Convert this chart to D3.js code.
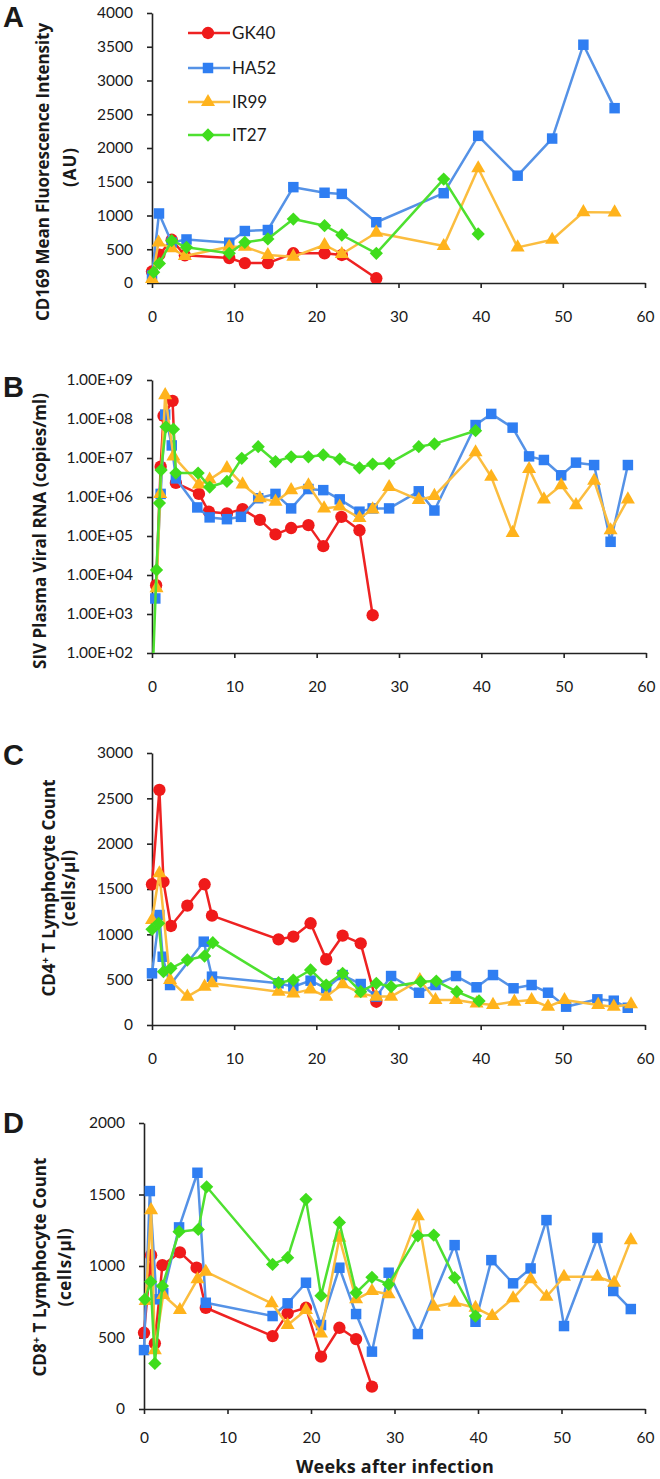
<!DOCTYPE html>
<html><head><meta charset="utf-8">
<script src="https://cdn.jsdelivr.net/npm/d3@7"></script>
<style>
body{margin:0;background:#fff;}
svg text{font-family:Lato,"Open Sans",sans-serif;fill:#1a1a1a;}
</style></head><body>
<svg id="chart" width="660" height="1479"></svg>
<script>
// ---------- DATA ----------
const seriesNames = ["GK40","HA52","IR99","IT27"];
const xTicks = [0,10,20,30,40,50,60];

// Panel A: CD169 MFI (AU)
const weeksA_GK40 = [0,0.9,2.4,4.0,9.4,11.3,14.1,17.2,21.0,23.1,27.3];
const cd169_GK40  = [170,420,640,410,370,295,295,440,440,415,70];
const weeksA_HA52 = [0,0.85,2.4,4.2,9.4,11.3,14.1,17.2,21.0,23.1,27.3,35.5,39.7,44.5,48.7,52.5,56.3];
const cd169_HA52  = [110,1030,600,645,597,770,785,1420,1337,1320,900,1330,2180,1590,2140,3530,2590];
const weeksA_IR99 = [0,0.8,2.4,4.0,9.4,11.3,14.1,17.2,21.0,23.1,27.3,35.5,39.7,44.5,48.7,52.5,56.3];
const cd169_IR99  = [60,600,514,400,537,537,415,390,563,430,745,548,1700,528,640,1050,1045];
const weeksA_IT27 = [0.2,0.9,2.4,4.2,9.4,11.3,14.1,17.2,21.0,23.1,27.3,35.5,39.7];
const cd169_IT27  = [160,290,627,528,440,603,652,948,849,711,440,1540,726];

// Panel B: SIV plasma viral RNA (copies/ml)
const weeksB_GK40 = [0.5,1.05,1.4,2.5,2.9,5.7,6.9,9.1,11.0,13.1,15.0,16.9,19.0,20.8,23.0,25.2,26.8];
const vl_GK40     = [5.5e3,6e6,1.2e8,2.9e8,2.3e6,1.2e6,4.2e5,3.8e5,4.9e5,2.6e5,1.1e5,1.6e5,1.9e5,5.5e4,3.1e5,1.4e5,9.3e2];
const weeksB_HA52 = [0.4,1.05,1.6,2.4,2.9,5.5,7.0,9.1,10.8,12.9,15.0,16.9,19.0,20.8,22.8,25.2,26.8,28.8,32.4,34.3,39.3,41.2,43.8,45.8,47.6,49.7,51.5,53.7,55.7,57.8];
const vl_HA52     = [2.5e3,1.2e6,1.3e8,2.1e7,3e6,5.4e5,3e5,2.7e5,3.1e5,9.3e5,1.2e6,5.1e5,1.6e6,1.5e6,8.7e5,4.2e5,5.1e5,5.1e5,1.4e6,4.5e5,7e7,1.35e8,6e7,1.1e7,8.9e6,3.6e6,7.6e6,6.6e6,7.1e4,6.6e6];
const weeksB_IR99 = [0.55,1.0,1.6,2.6,5.7,7.0,9.1,11.0,13.1,15.0,16.9,19.0,20.9,22.8,25.2,26.8,28.8,32.4,34.3,39.3,41.2,43.8,45.8,47.6,49.7,51.5,53.7,55.7,57.8];
const vl_IR99     = [4.6e3,1.2e6,4.1e8,1.1e7,2.1e6,2.8e6,5.5e6,2.1e6,9.3e5,7.6e5,1.5e6,2e6,5.1e5,5.7e5,2.9e5,4.8e5,1.8e6,8.4e5,1.07e6,1.4e7,3.3e6,1.2e5,5.2e6,8.7e5,2e6,6.2e5,2.6e6,1.4e5,8.7e5];
const weeksB_IT27 = [0,0.55,0.9,1.1,1.7,2.6,2.9,5.6,7.0,9.1,10.9,12.9,15.0,16.9,19.0,20.8,22.8,25.2,26.8,28.8,32.4,34.3,39.3];
const vl_IT27     = [10,1.35e4,7e5,4.9e6,6.3e7,5.5e7,4.1e6,4.1e6,1.8e6,2.5e6,9.8e6,1.95e7,8.1e6,1.07e7,1.07e7,1.2e7,9.3e6,5.6e6,7e6,7.3e6,1.95e7,2.3e7,5e7];

// Panel C: CD4+ T lymphocyte count (cells/µl)
const weeksC_GK40 = [0,0.9,1.4,2.3,4.3,6.4,7.3,15.4,17.2,19.3,21.2,23.2,25.4,27.3];
const cd4_GK40    = [1552,2592,1580,1092,1316,1552,1206,945,974,1122,725,985,901,257];
const weeksC_HA52 = [0,0.9,1.3,2.2,6.3,7.3,15.4,17.2,19.3,21.2,23.2,25.4,27.3,29.1,32.5,34.5,37.0,39.5,41.5,44.0,46.2,48.2,50.4,54.2,56.2,57.9];
const cd4_HA52    = [570,1213,753,441,919,533,460,422,489,405,551,452,313,540,356,441,540,416,551,405,441,356,202,283,268,190];
const weeksC_IR99 = [0,0.9,2.2,4.3,6.4,7.3,15.4,17.2,19.3,21.2,23.2,25.4,27.3,29.1,32.6,34.5,37.0,39.5,41.5,44.1,46.2,48.2,50.2,54.3,56.2,58.3];
const cd4_IR99    = [1158,1673,496,313,423,460,368,349,393,313,449,349,313,313,496,276,276,239,221,258,276,202,276,221,202,228];
const weeksC_IT27 = [0,0.8,1.4,2.3,4.3,6.4,7.4,15.4,17.2,19.3,21.2,23.2,25.4,27.3,29.1,32.7,34.6,37.1,39.8];
const cd4_IT27    = [1055,1121,588,625,717,761,908,467,496,607,441,570,368,460,423,478,485,368,265];

// Panel D: CD8+ T lymphocyte count (cells/µl)
const weeksD_GK40 = [0,0.85,1.3,2.2,4.3,6.3,7.4,15.4,17.2,19.4,21.2,23.4,25.4,27.3];
const cd8_GK40    = [533,1076,459,1006,1095,988,708,510,669,708,366,568,489,156];
const weeksD_HA52 = [0,0.7,1.5,2.3,4.2,6.4,7.4,15.4,17.2,19.4,21.2,23.4,25.4,27.3,29.3,32.8,37.2,39.7,41.6,44.2,46.3,48.2,50.3,54.3,56.2,58.3];
const cd8_HA52    = [412,1524,767,810,1270,1652,743,650,739,883,587,988,664,401,953,524,1146,610,1041,879,983,1321,580,1197,825,699];
const weeksD_IR99 = [0.2,0.85,1.3,2.3,4.3,6.4,7.4,15.3,17.2,19.4,21.2,23.4,25.4,27.3,29.3,32.8,34.7,37.2,39.7,41.7,44.2,46.3,48.2,50.3,54.3,56.3,58.3];
const cd8_IR99    = [755,1391,412,797,692,907,960,739,587,692,529,1197,767,825,802,1349,715,743,708,650,774,907,785,925,925,883,1181];
const weeksD_IT27 = [0.1,0.8,1.3,2.2,4.2,6.5,7.5,15.4,17.2,19.4,21.2,23.4,25.4,27.3,29.3,32.8,34.7,37.2,39.7];
const cd8_IT27    = [767,890,319,860,1240,1256,1554,1011,1058,1466,792,1305,813,921,872,1211,1216,918,650];

const yTicksA = [0,500,1000,1500,2000,2500,3000,3500,4000];
const yTicksB = [1e2,1e3,1e4,1e5,1e6,1e7,1e8,1e9];
const yTicksC = [0,500,1000,1500,2000,2500,3000];
const yTicksD = [0,500,1000,1500,2000];

// ---------- STYLE ----------
const colors = {GK40:"#ef1a1a", HA52:"#2f7ef2", IR99:"#ffb31c", IT27:"#3fdd1c"};
const lineColors = {GK40:"#ee2222", HA52:"#5592e6", IR99:"#fbbd3f", IT27:"#4ee030"};

const svg = d3.select("#chart");

const sym = {
  GK40: d3.symbol(d3.symbolCircle, 120),
  HA52: d3.symbol(d3.symbolSquare, 110),
  IR99: d3.symbol(d3.symbolTriangle, 85),
  IT27: d3.symbol(d3.symbolSquare, 88)
};
const rot = {GK40:0, HA52:0, IR99:0, IT27:45};

function drawMarker(g, name, x, y){
  g.append("path").attr("d", sym[name]())
   .attr("transform", `translate(${x},${y}) rotate(${rot[name]})`)
   .attr("fill", colors[name]);
}

function fitText(t, target, nChars){
  const len = t.node().getComputedTextLength();
  const ls = (target - len) / nChars;
  t.attr("letter-spacing", ls.toFixed(2));
}

const panels = [
  {letter:"A", left:152, right:645, top:13, bottom:283, log:false, domain:[0,4000], yTicks:yTicksA,
   xs:[weeksA_GK40,weeksA_HA52,weeksA_IR99,weeksA_IT27], ys:[cd169_GK40,cd169_HA52,cd169_IR99,cd169_IT27],
   titles:[{t:"CD169 Mean Fluorescence Intensity",x:43,cy:172,len:298},{t:"(AU)",x:70,cy:167,len:40}], letterY:27, xPad:23},
  {letter:"B", left:152, right:646, top:380, bottom:653, log:true, domain:[1e2,1e9], yTicks:yTicksB,
   xs:[weeksB_GK40,weeksB_HA52,weeksB_IR99,weeksB_IT27], ys:[vl_GK40,vl_HA52,vl_IR99,vl_IT27],
   titles:[{t:"SIV Plasma Viral RNA (copies/ml)",x:40,cy:531,len:276}], letterY:397, xPad:23},
  {letter:"C", left:152, right:645, top:753, bottom:1025, log:false, domain:[0,3000], yTicks:yTicksC,
   xs:[weeksC_GK40,weeksC_HA52,weeksC_IR99,weeksC_IT27], ys:[cd4_GK40,cd4_HA52,cd4_IR99,cd4_IT27],
   titles:[{t:"CD4",sup:"+",rest:" T Lymphocyte Count",x:49.5,cy:888,len:217},{t:"(cells/µl)",x:69,cy:888,len:77}], letterY:765, xPad:23},
  {letter:"D", left:144, right:645, top:1123, bottom:1409, log:false, domain:[0,2000], yTicks:yTicksD,
   xs:[weeksD_GK40,weeksD_HA52,weeksD_IR99,weeksD_IT27], ys:[cd8_GK40,cd8_HA52,cd8_IR99,cd8_IT27],
   titles:[{t:"CD8",sup:"+",rest:" T Lymphocyte Count",x:40,cy:1267,len:219},{t:"(cells/µl)",x:65,cy:1267,len:79}], letterY:1133, xPad:18}
];

const fmtE = v => "1.00E+" + String(Math.round(Math.log10(v))).padStart(2,"0");

panels.forEach((p, pi) => {
  const x = d3.scaleLinear().domain([0,60]).range([p.left, p.right]);
  const y = (p.log ? d3.scaleLog() : d3.scaleLinear()).domain(p.domain).range([p.bottom, p.top]);
  const g = svg.append("g");

  const cid = "clip" + pi;
  svg.append("clipPath").attr("id", cid).append("rect")
     .attr("x", p.left - 10).attr("y", p.top - 20)
     .attr("width", p.right - p.left + 20).attr("height", p.bottom - p.top + 20);

  const xa = g.append("g").attr("transform", `translate(0,${p.bottom})`)
    .call(d3.axisBottom(x).tickValues(xTicks).tickSize(5).tickSizeOuter(0).tickPadding(p.xPad));
  const ya = g.append("g").attr("transform", `translate(${p.left},0)`)
    .call(d3.axisLeft(y).tickValues(p.yTicks).tickSize(5).tickSizeOuter(0).tickPadding(14)
      .tickFormat(p.log ? fmtE : d3.format("d")));
  [xa, ya].forEach(a => {
    a.select(".domain").attr("stroke", "#222").attr("stroke-width", 1.6);
    a.selectAll(".tick line").attr("stroke", "#222").attr("stroke-width", 1.6);
    a.selectAll(".tick text").attr("font-size", 15.5).attr("font-family", "Lato").attr("fill", "#1a1a1a");
  });

  seriesNames.forEach((name, si) => {
    const pts = p.xs[si].map((w, i) => [w, p.ys[si][i]]);
    g.append("path").datum(pts)
      .attr("clip-path", `url(#${cid})`)
      .attr("fill", "none").attr("stroke", lineColors[name]).attr("stroke-width", 2.5)
      .attr("stroke-linejoin", "round")
      .attr("d", d3.line().x(d => x(d[0])).y(d => y(d[1])));
    const mg = g.append("g").attr("clip-path", `url(#${cid})`);
    pts.forEach(d => drawMarker(mg, name, x(d[0]), y(d[1])));
  });

  svg.append("text").attr("x", 3).attr("y", p.letterY).text(p.letter)
    .attr("font-weight", "bold").attr("font-size", 29)
    .style("font-family", "'Liberation Sans', Arial, sans-serif");

  p.titles.forEach(t => {
    const tx = svg.append("text")
      .attr("transform", `translate(${t.x},${t.cy}) rotate(-90)`)
      .attr("text-anchor", "middle").attr("dy", "0.35em")
      .attr("font-weight", "bold").attr("font-size", 17)
      .style("font-family", "'Open Sans', Lato, sans-serif");
    tx.append("tspan").text(t.t);
    let n = t.t.length;
    if (t.sup) {
      tx.append("tspan").text(t.sup).attr("font-size", 11).attr("dy", "-0.55em");
      tx.append("tspan").text(t.rest).attr("dy", "0.35em");
      n += t.sup.length + t.rest.length;
    }
    fitText(tx, t.len, n);
  });

  if (p.letter === "A") {
    const ly = [33, 68, 102, 135];
    seriesNames.forEach((name, si) => {
      const lg = svg.append("g");
      lg.append("line").attr("x1", 188).attr("x2", 230).attr("y1", ly[si]).attr("y2", ly[si])
        .attr("stroke", lineColors[name]).attr("stroke-width", 2.5);
      drawMarker(lg, name, 208, ly[si]);
      lg.append("text").attr("x", 232).attr("y", ly[si]).attr("dy", "0.36em")
        .attr("font-size", 17).text(name);
    });
  }
});

const xt = svg.append("text").attr("x", 395).attr("y", 1473).attr("text-anchor", "middle")
  .attr("font-weight", "bold").attr("font-size", 18)
  .style("font-family", "'Open Sans', Lato, sans-serif").text("Weeks after infection");
fitText(xt, 198, 21);
</script>
</body></html>
